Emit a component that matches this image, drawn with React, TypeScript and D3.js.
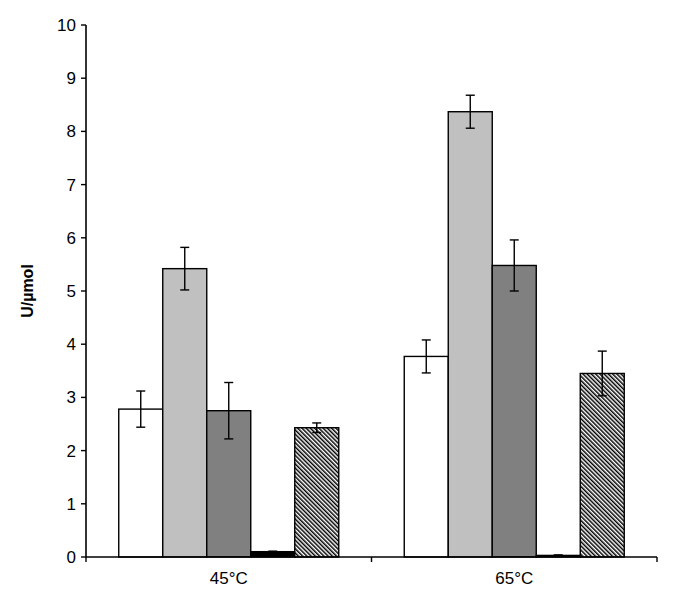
import React from "react";
import * as d3 from "d3";

const categories = ["45°C", "65°C"];
const seriesKeys = ["s1", "s2", "s3", "s4", "s5"];
const values: number[][] = [
  [2.78, 5.42, 2.75, 0.1, 2.43],
  [3.77, 8.37, 5.48, 0.03, 3.45],
];
const errors: number[][] = [
  [0.34, 0.4, 0.53, 0.01, 0.09],
  [0.31, 0.31, 0.48, 0.01, 0.42],
];
const fills = ["#ffffff", "#c0c0c0", "#808080", "#000000", "url(#hatch)"];
const yTicks = [0, 1, 2, 3, 4, 5, 6, 7, 8, 9, 10];

export default function App() {
  const W = 685, H = 595;
  const left = 86, right = 657, top = 25, bottom = 557;
  const x0 = d3.scaleBand().domain(categories).range([left, right]).paddingInner(0).paddingOuter(0);
  const y = d3.scaleLinear().domain([0, 10]).range([bottom, top]);
  const groupW = x0.bandwidth();
  const barW = 44;
  const groupPad = (groupW - barW * seriesKeys.length) / 2;
  const x1 = d3.scaleBand().domain(seriesKeys).range([groupPad, groupPad + barW * seriesKeys.length]).padding(0);
  const font = "'Liberation Sans', Arial, sans-serif";
  return (
    <svg width={W} height={H} style={{ position: "absolute", left: 0, top: 0, background: "#fff" }}>
      <defs>
        <pattern id="hatch" patternUnits="userSpaceOnUse" width={3} height={3} patternTransform="rotate(-45)">
          <rect width={3} height={3} fill="#fff" />
          <line x1={0.75} y1={0} x2={0.75} y2={3} stroke="#000" strokeWidth={1.5} />
        </pattern>
      </defs>
      <rect x={0} y={0} width={W} height={H} fill="#fff" />
      {categories.map((c, ci) =>
        seriesKeys.map((k, si) => {
          const v = values[ci][si];
          const e = errors[ci][si];
          const bx = (x0(c) as number) + (x1(k) as number);
          const cx = bx + barW / 2;
          return (
            <g key={c + k}>
              <rect x={bx} y={y(v)} width={barW} height={y(0) - y(v)} fill={fills[si]} stroke="#000" strokeWidth={1.4} />
              <line x1={cx} x2={cx} y1={y(v + e)} y2={y(v - e)} stroke="#000" strokeWidth={1.4} />
              <line x1={cx - 4.5} x2={cx + 4.5} y1={y(v + e)} y2={y(v + e)} stroke="#000" strokeWidth={1.4} />
              <line x1={cx - 4.5} x2={cx + 4.5} y1={y(v - e)} y2={y(v - e)} stroke="#000" strokeWidth={1.4} />
            </g>
          );
        })
      )}
      <line x1={left} x2={left} y1={top} y2={bottom} stroke="#000" strokeWidth={1.6} />
      {yTicks.map((t) => (
        <g key={t}>
          <line x1={left - 5} x2={left} y1={y(t)} y2={y(t)} stroke="#000" strokeWidth={1.4} />
          <text x={left - 10} y={y(t)} dy="0.35em" textAnchor="end" fontFamily={font} fontSize={17} fill="#000">
            {t}
          </text>
        </g>
      ))}
      <line x1={left} x2={right} y1={bottom} y2={bottom} stroke="#000" strokeWidth={1.6} />
      {[left, ...categories.map((c) => (x0(c) as number) + groupW)].map((tx, i) => (
        <line key={i} x1={tx} x2={tx} y1={bottom} y2={bottom + 5} stroke="#000" strokeWidth={1.4} />
      ))}
      {categories.map((c) => (
        <text key={c} x={(x0(c) as number) + groupW / 2} y={bottom + 27} textAnchor="middle" fontFamily={font} fontSize={17} fill="#000">
          {c}
        </text>
      ))}
      <text transform={`translate(33, ${y(5)}) rotate(-90)`} textAnchor="middle" fontFamily={font} fontSize={16} fontWeight="bold" fill="#000">
        U/µmol
      </text>
    </svg>
  );
}
